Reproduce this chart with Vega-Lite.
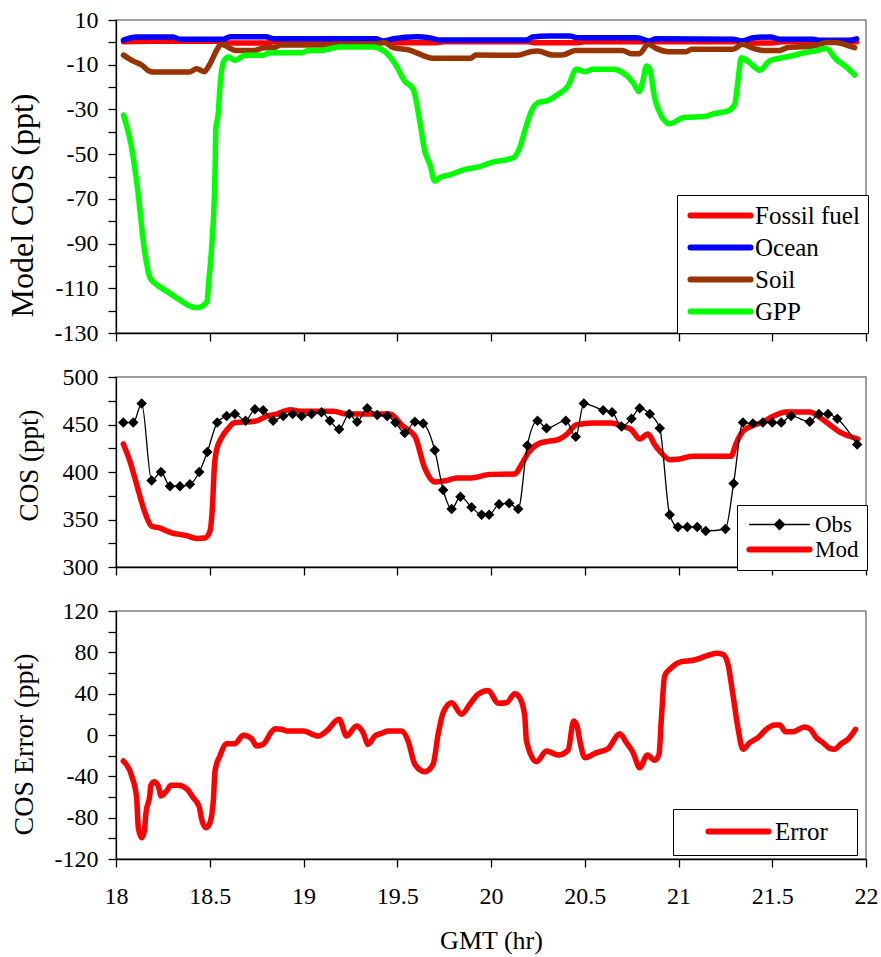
{
  "$schema": "https://vega.github.io/schema/vega-lite/v6.json",
  "background": "white",
  "padding": {"left": 5, "top": 7, "right": 5, "bottom": 5},
  "datasets": {
    "p1": [
      {"t":18.04,"v":0.3,"s":"Fossil fuel"},{"t":18.2,"v":0.5,"s":"Fossil fuel"},{"t":18.55,"v":0.5,"s":"Fossil fuel"},{"t":18.57,"v":-0.3,"s":"Fossil fuel"},{"t":18.8,"v":-0.3,"s":"Fossil fuel"},{"t":18.84,"v":0.3,"s":"Fossil fuel"},{"t":19.45,"v":0.3,"s":"Fossil fuel"},{"t":19.5,"v":-0.2,"s":"Fossil fuel"},{"t":19.7,"v":-0.2,"s":"Fossil fuel"},{"t":19.75,"v":0.3,"s":"Fossil fuel"},{"t":20.2,"v":0.3,"s":"Fossil fuel"},{"t":20.24,"v":-0.2,"s":"Fossil fuel"},{"t":20.45,"v":-0.2,"s":"Fossil fuel"},{"t":20.5,"v":0.3,"s":"Fossil fuel"},{"t":21.35,"v":0.3,"s":"Fossil fuel"},{"t":21.4,"v":-0.3,"s":"Fossil fuel"},{"t":21.5,"v":-0.3,"s":"Fossil fuel"},{"t":21.55,"v":0.3,"s":"Fossil fuel"},{"t":21.95,"v":0.3,"s":"Fossil fuel"},
      {"t":18.04,"v":1.0,"s":"Ocean"},{"t":18.11,"v":2.4,"s":"Ocean"},{"t":18.3,"v":2.4,"s":"Ocean"},{"t":18.34,"v":1.4,"s":"Ocean"},{"t":18.57,"v":1.4,"s":"Ocean"},{"t":18.61,"v":2.5,"s":"Ocean"},{"t":18.8,"v":2.5,"s":"Ocean"},{"t":18.84,"v":1.6,"s":"Ocean"},{"t":19.39,"v":1.6,"s":"Ocean"},{"t":19.42,"v":0.6,"s":"Ocean"},{"t":19.48,"v":1.6,"s":"Ocean"},{"t":19.6,"v":2.5,"s":"Ocean"},{"t":19.67,"v":2.1,"s":"Ocean"},{"t":19.73,"v":1.0,"s":"Ocean"},{"t":20.19,"v":1.0,"s":"Ocean"},{"t":20.22,"v":2.4,"s":"Ocean"},{"t":20.31,"v":2.8,"s":"Ocean"},{"t":20.42,"v":2.8,"s":"Ocean"},{"t":20.46,"v":2.1,"s":"Ocean"},{"t":20.78,"v":2.1,"s":"Ocean"},{"t":20.84,"v":0.6,"s":"Ocean"},{"t":20.88,"v":1.6,"s":"Ocean"},{"t":21.29,"v":1.4,"s":"Ocean"},{"t":21.34,"v":0.6,"s":"Ocean"},{"t":21.4,"v":2.1,"s":"Ocean"},{"t":21.49,"v":2.4,"s":"Ocean"},{"t":21.54,"v":1.4,"s":"Ocean"},{"t":21.72,"v":1.4,"s":"Ocean"},{"t":21.75,"v":0.9,"s":"Ocean"},{"t":21.91,"v":0.9,"s":"Ocean"},{"t":21.95,"v":1.6,"s":"Ocean"},
      {"t":18.04,"v":-5.7,"s":"Soil"},{"t":18.09,"v":-8.3,"s":"Soil"},{"t":18.14,"v":-10.3,"s":"Soil"},{"t":18.17,"v":-12.5,"s":"Soil"},{"t":18.2,"v":-13.3,"s":"Soil"},{"t":18.39,"v":-13.3,"s":"Soil"},{"t":18.43,"v":-11.8,"s":"Soil"},{"t":18.47,"v":-13.1,"s":"Soil"},{"t":18.5,"v":-9.8,"s":"Soil"},{"t":18.54,"v":-3.1,"s":"Soil"},{"t":18.56,"v":-0.9,"s":"Soil"},{"t":18.64,"v":-3.6,"s":"Soil"},{"t":18.74,"v":-3.6,"s":"Soil"},{"t":18.79,"v":-2.4,"s":"Soil"},{"t":18.84,"v":-2.4,"s":"Soil"},{"t":18.88,"v":-1.2,"s":"Soil"},{"t":19.16,"v":-1.2,"s":"Soil"},{"t":19.19,"v":-0.9,"s":"Soil"},{"t":19.39,"v":-0.6,"s":"Soil"},{"t":19.43,"v":-0.1,"s":"Soil"},{"t":19.48,"v":-2.4,"s":"Soil"},{"t":19.57,"v":-3.6,"s":"Soil"},{"t":19.6,"v":-4.6,"s":"Soil"},{"t":19.69,"v":-7.1,"s":"Soil"},{"t":19.89,"v":-7.1,"s":"Soil"},{"t":19.92,"v":-5.7,"s":"Soil"},{"t":20.14,"v":-5.8,"s":"Soil"},{"t":20.21,"v":-4.2,"s":"Soil"},{"t":20.25,"v":-3.9,"s":"Soil"},{"t":20.33,"v":-5.7,"s":"Soil"},{"t":20.38,"v":-5.7,"s":"Soil"},{"t":20.45,"v":-3.6,"s":"Soil"},{"t":20.7,"v":-3.6,"s":"Soil"},{"t":20.75,"v":-5.1,"s":"Soil"},{"t":20.79,"v":-5.1,"s":"Soil"},{"t":20.84,"v":-0.9,"s":"Soil"},{"t":20.88,"v":-2.7,"s":"Soil"},{"t":20.95,"v":-4.2,"s":"Soil"},{"t":21.04,"v":-4.2,"s":"Soil"},{"t":21.07,"v":-3.1,"s":"Soil"},{"t":21.29,"v":-3.1,"s":"Soil"},{"t":21.34,"v":-0.9,"s":"Soil"},{"t":21.4,"v":-2.7,"s":"Soil"},{"t":21.45,"v":-3.6,"s":"Soil"},{"t":21.54,"v":-3.6,"s":"Soil"},{"t":21.58,"v":-2.4,"s":"Soil"},{"t":21.72,"v":-1.6,"s":"Soil"},{"t":21.79,"v":-0.1,"s":"Soil"},{"t":21.84,"v":-0.1,"s":"Soil"},{"t":21.9,"v":-1.3,"s":"Soil"},{"t":21.94,"v":-2.4,"s":"Soil"},
      {"t":18.04,"v":-32.5,"s":"GPP"},{"t":18.08,"v":-45.6,"s":"GPP"},{"t":18.11,"v":-62,"s":"GPP"},{"t":18.155,"v":-94.7,"s":"GPP"},{"t":18.18,"v":-105,"s":"GPP"},{"t":18.21,"v":-108,"s":"GPP"},{"t":18.24,"v":-109.7,"s":"GPP"},{"t":18.29,"v":-112.4,"s":"GPP"},{"t":18.34,"v":-115.2,"s":"GPP"},{"t":18.39,"v":-117.8,"s":"GPP"},{"t":18.43,"v":-118.7,"s":"GPP"},{"t":18.46,"v":-118,"s":"GPP"},{"t":18.487,"v":-115.7,"s":"GPP"},{"t":18.492,"v":-109.7,"s":"GPP"},{"t":18.51,"v":-91.8,"s":"GPP"},{"t":18.528,"v":-59,"s":"GPP"},{"t":18.533,"v":-38.2,"s":"GPP"},{"t":18.545,"v":-32.2,"s":"GPP"},{"t":18.554,"v":-20.3,"s":"GPP"},{"t":18.576,"v":-8.3,"s":"GPP"},{"t":18.6,"v":-6.5,"s":"GPP"},{"t":18.634,"v":-8,"s":"GPP"},{"t":18.69,"v":-5.8,"s":"GPP"},{"t":18.785,"v":-5.8,"s":"GPP"},{"t":18.82,"v":-4.6,"s":"GPP"},{"t":18.99,"v":-4.6,"s":"GPP"},{"t":19.03,"v":-3.6,"s":"GPP"},{"t":19.09,"v":-3.6,"s":"GPP"},{"t":19.19,"v":-2.1,"s":"GPP"},{"t":19.37,"v":-2.1,"s":"GPP"},{"t":19.43,"v":-3.9,"s":"GPP"},{"t":19.49,"v":-9.8,"s":"GPP"},{"t":19.54,"v":-17.3,"s":"GPP"},{"t":19.585,"v":-21,"s":"GPP"},{"t":19.62,"v":-35.2,"s":"GPP"},{"t":19.647,"v":-48.6,"s":"GPP"},{"t":19.674,"v":-54.5,"s":"GPP"},{"t":19.7,"v":-62,"s":"GPP"},{"t":19.727,"v":-60.5,"s":"GPP"},{"t":19.78,"v":-59.3,"s":"GPP"},{"t":19.85,"v":-57.1,"s":"GPP"},{"t":19.94,"v":-55.6,"s":"GPP"},{"t":20.0,"v":-53.8,"s":"GPP"},{"t":20.118,"v":-51.6,"s":"GPP"},{"t":20.153,"v":-47.1,"s":"GPP"},{"t":20.18,"v":-39.7,"s":"GPP"},{"t":20.216,"v":-30.7,"s":"GPP"},{"t":20.251,"v":-27,"s":"GPP"},{"t":20.296,"v":-26.2,"s":"GPP"},{"t":20.358,"v":-23.2,"s":"GPP"},{"t":20.411,"v":-19.5,"s":"GPP"},{"t":20.456,"v":-12,"s":"GPP"},{"t":20.5,"v":-13.1,"s":"GPP"},{"t":20.544,"v":-12,"s":"GPP"},{"t":20.651,"v":-12,"s":"GPP"},{"t":20.704,"v":-13.6,"s":"GPP"},{"t":20.758,"v":-18,"s":"GPP"},{"t":20.79,"v":-22,"s":"GPP"},{"t":20.81,"v":-17.3,"s":"GPP"},{"t":20.829,"v":-10.6,"s":"GPP"},{"t":20.847,"v":-12,"s":"GPP"},{"t":20.873,"v":-24.8,"s":"GPP"},{"t":20.909,"v":-33,"s":"GPP"},{"t":20.953,"v":-36.4,"s":"GPP"},{"t":21.024,"v":-33.7,"s":"GPP"},{"t":21.149,"v":-33,"s":"GPP"},{"t":21.184,"v":-32,"s":"GPP"},{"t":21.264,"v":-30.7,"s":"GPP"},{"t":21.3,"v":-27.7,"s":"GPP"},{"t":21.317,"v":-17.3,"s":"GPP"},{"t":21.335,"v":-6.9,"s":"GPP"},{"t":21.38,"v":-9.1,"s":"GPP"},{"t":21.433,"v":-12.5,"s":"GPP"},{"t":21.486,"v":-8.3,"s":"GPP"},{"t":21.54,"v":-7.1,"s":"GPP"},{"t":21.6,"v":-6.1,"s":"GPP"},{"t":21.672,"v":-4.6,"s":"GPP"},{"t":21.726,"v":-3.9,"s":"GPP"},{"t":21.788,"v":-2.8,"s":"GPP"},{"t":21.841,"v":-7.6,"s":"GPP"},{"t":21.895,"v":-11,"s":"GPP"},{"t":21.94,"v":-14.6,"s":"GPP"}
    ],
    "p2": [
      {"t":18.039,"v":429.5,"s":"Mod"},{"t":18.075,"v":411,"s":"Mod"},{"t":18.11,"v":387,"s":"Mod"},{"t":18.155,"v":357,"s":"Mod"},{"t":18.19,"v":343,"s":"Mod"},{"t":18.235,"v":341,"s":"Mod"},{"t":18.288,"v":336.5,"s":"Mod"},{"t":18.377,"v":333,"s":"Mod"},{"t":18.43,"v":330,"s":"Mod"},{"t":18.474,"v":330.5,"s":"Mod"},{"t":18.501,"v":337.6,"s":"Mod"},{"t":18.515,"v":365.6,"s":"Mod"},{"t":18.524,"v":404,"s":"Mod"},{"t":18.537,"v":423.5,"s":"Mod"},{"t":18.563,"v":436,"s":"Mod"},{"t":18.599,"v":446,"s":"Mod"},{"t":18.634,"v":452,"s":"Mod"},{"t":18.741,"v":453.4,"s":"Mod"},{"t":18.803,"v":458.6,"s":"Mod"},{"t":18.857,"v":461,"s":"Mod"},{"t":18.928,"v":465.6,"s":"Mod"},{"t":18.981,"v":464,"s":"Mod"},{"t":19.158,"v":464,"s":"Mod"},{"t":19.23,"v":461,"s":"Mod"},{"t":19.46,"v":461,"s":"Mod"},{"t":19.531,"v":448,"s":"Mod"},{"t":19.594,"v":437.6,"s":"Mod"},{"t":19.647,"v":404,"s":"Mod"},{"t":19.7,"v":389.5,"s":"Mod"},{"t":19.763,"v":391,"s":"Mod"},{"t":19.816,"v":393.7,"s":"Mod"},{"t":19.896,"v":393.7,"s":"Mod"},{"t":19.994,"v":397.5,"s":"Mod"},{"t":20.127,"v":397.9,"s":"Mod"},{"t":20.162,"v":407.7,"s":"Mod"},{"t":20.198,"v":420,"s":"Mod"},{"t":20.251,"v":429.5,"s":"Mod"},{"t":20.304,"v":432.3,"s":"Mod"},{"t":20.358,"v":434,"s":"Mod"},{"t":20.402,"v":439.3,"s":"Mod"},{"t":20.456,"v":449.8,"s":"Mod"},{"t":20.544,"v":451.6,"s":"Mod"},{"t":20.642,"v":451.6,"s":"Mod"},{"t":20.704,"v":448,"s":"Mod"},{"t":20.749,"v":444.5,"s":"Mod"},{"t":20.793,"v":434.7,"s":"Mod"},{"t":20.837,"v":440,"s":"Mod"},{"t":20.873,"v":428.8,"s":"Mod"},{"t":20.909,"v":420,"s":"Mod"},{"t":20.953,"v":413,"s":"Mod"},{"t":21.006,"v":413.7,"s":"Mod"},{"t":21.077,"v":416.5,"s":"Mod"},{"t":21.28,"v":416.5,"s":"Mod"},{"t":21.308,"v":430.5,"s":"Mod"},{"t":21.344,"v":442.8,"s":"Mod"},{"t":21.38,"v":447.4,"s":"Mod"},{"t":21.45,"v":452.6,"s":"Mod"},{"t":21.504,"v":458.6,"s":"Mod"},{"t":21.575,"v":463.2,"s":"Mod"},{"t":21.7,"v":463.2,"s":"Mod"},{"t":21.753,"v":457.6,"s":"Mod"},{"t":21.806,"v":449.8,"s":"Mod"},{"t":21.86,"v":442,"s":"Mod"},{"t":21.913,"v":437.6,"s":"Mod"},{"t":21.957,"v":434.7,"s":"Mod"},
      {"t":18.039,"v":452,"s":"Obs"},{"t":18.092,"v":452,"s":"Obs"},{"t":18.137,"v":472,"s":"Obs"},{"t":18.19,"v":391,"s":"Obs"},{"t":18.24,"v":400,"s":"Obs"},{"t":18.288,"v":385,"s":"Obs"},{"t":18.341,"v":385,"s":"Obs"},{"t":18.394,"v":387,"s":"Obs"},{"t":18.444,"v":400,"s":"Obs"},{"t":18.487,"v":421,"s":"Obs"},{"t":18.54,"v":452,"s":"Obs"},{"t":18.59,"v":459,"s":"Obs"},{"t":18.634,"v":461,"s":"Obs"},{"t":18.691,"v":454,"s":"Obs"},{"t":18.741,"v":466,"s":"Obs"},{"t":18.785,"v":465,"s":"Obs"},{"t":18.838,"v":454,"s":"Obs"},{"t":18.892,"v":459,"s":"Obs"},{"t":18.942,"v":461,"s":"Obs"},{"t":18.99,"v":459,"s":"Obs"},{"t":19.043,"v":461,"s":"Obs"},{"t":19.096,"v":463,"s":"Obs"},{"t":19.141,"v":454,"s":"Obs"},{"t":19.19,"v":445,"s":"Obs"},{"t":19.244,"v":461,"s":"Obs"},{"t":19.286,"v":453,"s":"Obs"},{"t":19.34,"v":467,"s":"Obs"},{"t":19.393,"v":460,"s":"Obs"},{"t":19.446,"v":459,"s":"Obs"},{"t":19.49,"v":452,"s":"Obs"},{"t":19.54,"v":441,"s":"Obs"},{"t":19.594,"v":453,"s":"Obs"},{"t":19.638,"v":451,"s":"Obs"},{"t":19.7,"v":423,"s":"Obs"},{"t":19.745,"v":381,"s":"Obs"},{"t":19.79,"v":361,"s":"Obs"},{"t":19.837,"v":374,"s":"Obs"},{"t":19.896,"v":363,"s":"Obs"},{"t":19.95,"v":355,"s":"Obs"},{"t":19.99,"v":355,"s":"Obs"},{"t":20.043,"v":366,"s":"Obs"},{"t":20.097,"v":367,"s":"Obs"},{"t":20.145,"v":361,"s":"Obs"},{"t":20.194,"v":428,"s":"Obs"},{"t":20.248,"v":454,"s":"Obs"},{"t":20.296,"v":446,"s":"Obs"},{"t":20.399,"v":454,"s":"Obs"},{"t":20.452,"v":437,"s":"Obs"},{"t":20.495,"v":472,"s":"Obs"},{"t":20.598,"v":465,"s":"Obs"},{"t":20.646,"v":463,"s":"Obs"},{"t":20.696,"v":448,"s":"Obs"},{"t":20.749,"v":456,"s":"Obs"},{"t":20.793,"v":467,"s":"Obs"},{"t":20.847,"v":461,"s":"Obs"},{"t":20.9,"v":446,"s":"Obs"},{"t":20.953,"v":355,"s":"Obs"},{"t":20.997,"v":342,"s":"Obs"},{"t":21.047,"v":342,"s":"Obs"},{"t":21.1,"v":342,"s":"Obs"},{"t":21.145,"v":338,"s":"Obs"},{"t":21.25,"v":340,"s":"Obs"},{"t":21.294,"v":388,"s":"Obs"},{"t":21.344,"v":452,"s":"Obs"},{"t":21.397,"v":451,"s":"Obs"},{"t":21.45,"v":452,"s":"Obs"},{"t":21.5,"v":452,"s":"Obs"},{"t":21.548,"v":452,"s":"Obs"},{"t":21.6,"v":459,"s":"Obs"},{"t":21.7,"v":453,"s":"Obs"},{"t":21.749,"v":461,"s":"Obs"},{"t":21.797,"v":461,"s":"Obs"},{"t":21.847,"v":456,"s":"Obs"},{"t":21.953,"v":429,"s":"Obs"}
    ],
    "p3": [
      {"t":18.039,"v":-25.2,"s":"Error"},{"t":18.084,"v":-39.7,"s":"Error"},{"t":18.11,"v":-60.7,"s":"Error"},{"t":18.119,"v":-89.7,"s":"Error"},{"t":18.137,"v":-99.4,"s":"Error"},{"t":18.151,"v":-92.9,"s":"Error"},{"t":18.16,"v":-75.2,"s":"Error"},{"t":18.181,"v":-57.4,"s":"Error"},{"t":18.185,"v":-49.4,"s":"Error"},{"t":18.203,"v":-45.2,"s":"Error"},{"t":18.226,"v":-49.4,"s":"Error"},{"t":18.24,"v":-59,"s":"Error"},{"t":18.27,"v":-54.2,"s":"Error"},{"t":18.293,"v":-48.7,"s":"Error"},{"t":18.332,"v":-48.7,"s":"Error"},{"t":18.38,"v":-52.6,"s":"Error"},{"t":18.412,"v":-60.7,"s":"Error"},{"t":18.444,"v":-69.7,"s":"Error"},{"t":18.457,"v":-81.6,"s":"Error"},{"t":18.48,"v":-89.7,"s":"Error"},{"t":18.501,"v":-84.9,"s":"Error"},{"t":18.519,"v":-63.9,"s":"Error"},{"t":18.528,"v":-34.8,"s":"Error"},{"t":18.554,"v":-20.3,"s":"Error"},{"t":18.59,"v":-8.4,"s":"Error"},{"t":18.634,"v":-8.4,"s":"Error"},{"t":18.679,"v":-0.3,"s":"Error"},{"t":18.723,"v":-3.6,"s":"Error"},{"t":18.75,"v":-10.6,"s":"Error"},{"t":18.785,"v":-9,"s":"Error"},{"t":18.83,"v":3.2,"s":"Error"},{"t":18.848,"v":6.1,"s":"Error"},{"t":18.883,"v":5.5,"s":"Error"},{"t":18.91,"v":3.9,"s":"Error"},{"t":18.998,"v":3.9,"s":"Error"},{"t":19.078,"v":-1,"s":"Error"},{"t":19.123,"v":3.9,"s":"Error"},{"t":19.19,"v":15.2,"s":"Error"},{"t":19.23,"v":-1,"s":"Error"},{"t":19.283,"v":8.7,"s":"Error"},{"t":19.318,"v":2.3,"s":"Error"},{"t":19.345,"v":-9,"s":"Error"},{"t":19.38,"v":-1,"s":"Error"},{"t":19.416,"v":1.6,"s":"Error"},{"t":19.451,"v":3.9,"s":"Error"},{"t":19.523,"v":3.9,"s":"Error"},{"t":19.558,"v":-5.8,"s":"Error"},{"t":19.594,"v":-28.4,"s":"Error"},{"t":19.647,"v":-35.5,"s":"Error"},{"t":19.691,"v":-28.4,"s":"Error"},{"t":19.718,"v":0.7,"s":"Error"},{"t":19.745,"v":21.6,"s":"Error"},{"t":19.79,"v":31.3,"s":"Error"},{"t":19.843,"v":20,"s":"Error"},{"t":19.887,"v":29.7,"s":"Error"},{"t":19.931,"v":39.4,"s":"Error"},{"t":19.985,"v":43,"s":"Error"},{"t":20.038,"v":30.8,"s":"Error"},{"t":20.083,"v":31.3,"s":"Error"},{"t":20.127,"v":40,"s":"Error"},{"t":20.153,"v":36.1,"s":"Error"},{"t":20.18,"v":18.4,"s":"Error"},{"t":20.189,"v":-5.8,"s":"Error"},{"t":20.243,"v":-25.8,"s":"Error"},{"t":20.296,"v":-15.5,"s":"Error"},{"t":20.358,"v":-19.4,"s":"Error"},{"t":20.411,"v":-14.8,"s":"Error"},{"t":20.441,"v":13.6,"s":"Error"},{"t":20.459,"v":8.7,"s":"Error"},{"t":20.474,"v":-5.8,"s":"Error"},{"t":20.5,"v":-22,"s":"Error"},{"t":20.562,"v":-17.1,"s":"Error"},{"t":20.624,"v":-13.3,"s":"Error"},{"t":20.687,"v":1.3,"s":"Error"},{"t":20.722,"v":-7.4,"s":"Error"},{"t":20.758,"v":-17.1,"s":"Error"},{"t":20.793,"v":-31.6,"s":"Error"},{"t":20.834,"v":-19.4,"s":"Error"},{"t":20.873,"v":-24.5,"s":"Error"},{"t":20.896,"v":-18.7,"s":"Error"},{"t":20.909,"v":16.7,"s":"Error"},{"t":20.926,"v":57.1,"s":"Error"},{"t":20.962,"v":65.1,"s":"Error"},{"t":21.015,"v":71,"s":"Error"},{"t":21.077,"v":72.3,"s":"Error"},{"t":21.149,"v":76.5,"s":"Error"},{"t":21.202,"v":79.1,"s":"Error"},{"t":21.237,"v":78.1,"s":"Error"},{"t":21.264,"v":68.4,"s":"Error"},{"t":21.29,"v":39.4,"s":"Error"},{"t":21.317,"v":7.1,"s":"Error"},{"t":21.344,"v":-13.8,"s":"Error"},{"t":21.38,"v":-7.4,"s":"Error"},{"t":21.424,"v":-2.6,"s":"Error"},{"t":21.468,"v":5.5,"s":"Error"},{"t":21.513,"v":9.7,"s":"Error"},{"t":21.54,"v":9.7,"s":"Error"},{"t":21.571,"v":3.2,"s":"Error"},{"t":21.61,"v":3.2,"s":"Error"},{"t":21.672,"v":7.7,"s":"Error"},{"t":21.704,"v":5.5,"s":"Error"},{"t":21.735,"v":-2.6,"s":"Error"},{"t":21.77,"v":-7.4,"s":"Error"},{"t":21.806,"v":-12.9,"s":"Error"},{"t":21.832,"v":-13.8,"s":"Error"},{"t":21.868,"v":-8.4,"s":"Error"},{"t":21.904,"v":-4.2,"s":"Error"},{"t":21.944,"v":5.5,"s":"Error"}
    ]
  },
  "vconcat": [
    {
      "width": 750,
      "height": 313,
      "data": {"name": "p1"},
      "mark": {"type": "line", "strokeWidth": 5.5, "strokeCap": "round", "strokeJoin": "round", "interpolate": "monotone"},
      "encoding": {
        "x": {"field": "t", "type": "quantitative", "scale": {"domain": [18, 22], "nice": false, "zero": false},
              "axis": {"values": [18, 18.5, 19, 19.5, 20, 20.5, 21, 21.5, 22], "labels": false, "title": null}},
        "y": {"field": "v", "type": "quantitative", "scale": {"domain": [-130, 10], "nice": false, "zero": false},
              "axis": {"values": [10, 0, -10, -20, -30, -40, -50, -60, -70, -80, -90, -100, -110, -120, -130],
                       "labelExpr": "datum.value % 20 != 0 ? '' + datum.value : ''",
                       "title": "Model COS (ppt)", "titleFontSize": 32, "titleX": -84, "titleY": 185,
                       "titleBaseline": "alphabetic", "titleAlign": "center",
                       "encode": {"ticks": {"update": {"x": {"value": 5}}}}}},
        "color": {"field": "s", "type": "nominal",
                  "scale": {"domain": ["Fossil fuel", "Ocean", "Soil", "GPP"], "range": ["#FF0000", "#0000FF", "#993300", "#00FF00"]},
                  "legend": {"orient": "none", "legendX": 561, "legendY": 175, "title": null,
                             "symbolType": "M-6,0H6", "symbolSize": 100, "symbolStrokeWidth": 6,
                             "symbolOffset": 23, "labelOffset": 22, "padding": 8, "rowPadding": 6,
                             "labelFontSize": 25, "labelFont": "Liberation Serif", "labelColor": "black",
                             "strokeColor": "black", "fillColor": "white",
                             "encode": {"symbols": {"update": {"strokeCap": {"value": "round"}}}}}}
      }
    },
    {
      "width": 750,
      "height": 190,
      "data": {"name": "p2"},
      "encoding": {
        "x": {"field": "t", "type": "quantitative", "scale": {"domain": [18, 22], "nice": false, "zero": false},
              "axis": {"values": [18, 18.5, 19, 19.5, 20, 20.5, 21, 21.5, 22], "labels": false, "title": null}},
        "y": {"field": "v", "type": "quantitative", "scale": {"domain": [300, 500], "nice": false, "zero": false},
              "axis": {"values": [300, 325, 350, 375, 400, 425, 450, 475, 500],
                       "labelExpr": "datum.value % 50 == 0 ? '' + datum.value : ''",
                       "title": "COS (ppt)", "titleFontSize": 27, "titleX": -79, "titleY": 88,
                       "titleBaseline": "alphabetic", "titleAlign": "center",
                       "encode": {"ticks": {"update": {"x": {"value": 5}}}}}},
        "color": {"field": "s", "type": "nominal",
                  "scale": {"domain": ["Obs", "Mod"], "range": ["#000000", "#FF0000"]},
                  "legend": {"orient": "none", "legendX": 621, "legendY": 128, "title": null,
                             "symbolType": "M-6,0H6", "symbolSize": 100, "symbolStrokeWidth": 6,
                             "symbolOffset": 23, "labelOffset": 24, "padding": 8, "rowPadding": 0,
                             "labelFontSize": 23, "labelFont": "Liberation Serif", "labelColor": "black",
                             "strokeColor": "black", "fillColor": "white",
                             "encode": {"symbols": {"update": {
                               "shape": {"signal": "datum.value === 'Obs' ? 'M-6,0H6M0,-1L1,0L0,1L-1,0Z' : 'M-6,0H6'"},
                               "strokeWidth": {"signal": "datum.value === 'Obs' ? 1.3 : 6"},
                               "fill": {"signal": "datum.value === 'Obs' ? '#000000' : 'transparent'"},
                               "fillOpacity": {"value": 1},
                               "stroke": {"signal": "datum.value === 'Obs' ? '#000000' : '#FF0000'"},
                               "strokeCap": {"value": "round"}}}}}}
      },
      "layer": [
        {"transform": [{"filter": "datum.s === 'Mod'"}],
         "mark": {"type": "line", "strokeWidth": 5.5, "strokeCap": "round", "strokeJoin": "round", "interpolate": "monotone"}},
        {"transform": [{"filter": "datum.s === 'Obs'"}],
         "mark": {"type": "line", "strokeWidth": 1.3, "interpolate": "monotone",
                  "point": {"shape": "diamond", "size": 110, "filled": true, "color": "#000000"}}}
      ]
    },
    {
      "width": 750,
      "height": 248,
      "data": {"name": "p3"},
      "mark": {"type": "line", "strokeWidth": 5.5, "strokeCap": "round", "strokeJoin": "round", "interpolate": "monotone"},
      "encoding": {
        "x": {"field": "t", "type": "quantitative", "scale": {"domain": [18, 22], "nice": false, "zero": false},
              "axis": {"values": [18, 18.5, 19, 19.5, 20, 20.5, 21, 21.5, 22], "labelExpr": "'' + datum.value",
                       "title": "GMT (hr)", "titleFontSize": 26, "labelPadding": 17, "titlePadding": 19}},
        "y": {"field": "v", "type": "quantitative", "scale": {"domain": [-120, 120], "nice": false, "zero": false},
              "axis": {"values": [-120, -100, -80, -60, -40, -20, 0, 20, 40, 60, 80, 100, 120],
                       "labelExpr": "datum.value % 40 == 0 ? '' + datum.value : ''",
                       "title": "COS Error (ppt)", "titleFontSize": 28, "titleX": -84, "titleY": 133,
                       "titleBaseline": "alphabetic", "titleAlign": "center",
                       "encode": {"ticks": {"update": {"x": {"value": 5}}}}}},
        "color": {"field": "s", "type": "nominal",
                  "scale": {"domain": ["Error"], "range": ["#FF0000"]},
                  "legend": {"orient": "none", "legendX": 557, "legendY": 198, "title": null,
                             "symbolType": "M-6,0H6", "symbolSize": 100, "symbolStrokeWidth": 6,
                             "symbolOffset": 43, "labelOffset": 24, "padding": 10,
                             "labelFontSize": 25, "labelFont": "Liberation Serif", "labelColor": "black",
                             "labelExpr": "datum.label + '\u00a0\u00a0\u00a0\u200b'",
                             "strokeColor": "black", "fillColor": "white",
                             "encode": {"symbols": {"update": {"strokeCap": {"value": "round"}}}}}}
      }
    }
  ],
  "spacing": 44,
  "bounds": "flush",
  "resolve": {"scale": {"x": "independent", "y": "independent", "color": "independent"}, "legend": {"color": "independent"}},
  "config": {
    "font": "Liberation Serif",
    "view": {"stroke": "#808080", "strokeWidth": 1.5},
    "axis": {"grid": false, "labelFont": "Liberation Serif", "labelFontSize": 24, "labelColor": "#000000",
             "titleFont": "Liberation Serif", "titleFontWeight": "normal", "titleColor": "#000000",
             "domainColor": "#000000", "domainWidth": 1.3, "tickColor": "#000000", "tickWidth": 1.3, "tickSize": 8,
             "labelPadding": 10, "labelFlush": false, "labelOverlap": false}
  }
}
